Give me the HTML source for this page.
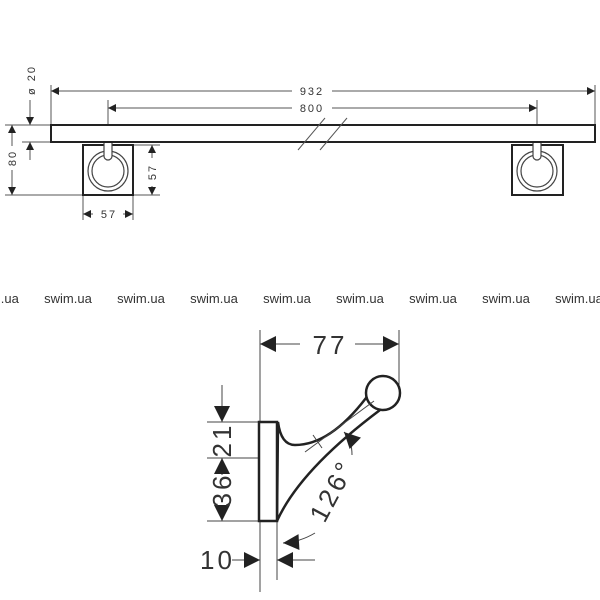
<!DOCTYPE html>
<html><head><style>body{margin:0;background:#fff}svg{display:block}text{font-family:"Liberation Sans",sans-serif;fill:#333}</style></head><body>
<svg width="600" height="600" viewBox="0 0 600 600" xmlns="http://www.w3.org/2000/svg">
<defs>
<marker id="a" viewBox="0 0 10 10" refX="10" refY="5" markerWidth="10" markerHeight="8" orient="auto-start-reverse" markerUnits="userSpaceOnUse"><path d="M0,0L10,5L0,10z" fill="#222"/></marker>
<marker id="b" viewBox="0 0 10 10" refX="10" refY="5" markerWidth="18" markerHeight="16" orient="auto-start-reverse" markerUnits="userSpaceOnUse"><path d="M0,0L10,5L0,10z" fill="#222"/></marker>
</defs>
<g stroke="#555" stroke-width="1" fill="none">
<line x1="51" y1="85" x2="51" y2="125"/><line x1="595" y1="85" x2="595" y2="125"/>
<line x1="108" y1="100" x2="108" y2="145"/><line x1="537" y1="100" x2="537" y2="145"/>
<line x1="51" y1="91" x2="292" y2="91" marker-start="url(#a)"/><line x1="332" y1="91" x2="595" y2="91" marker-end="url(#a)"/>
<line x1="108" y1="108" x2="292" y2="108" marker-start="url(#a)"/><line x1="332" y1="108" x2="537" y2="108" marker-end="url(#a)"/>
<line x1="5" y1="125" x2="50" y2="125"/><line x1="22" y1="142" x2="50" y2="142"/><line x1="5" y1="195" x2="160" y2="195"/>
<line x1="133" y1="145" x2="160" y2="145"/>
<line x1="30" y1="100" x2="30" y2="125" marker-end="url(#a)"/><line x1="30" y1="160" x2="30" y2="142" marker-end="url(#a)"/>
<line x1="12" y1="125" x2="12" y2="146" marker-start="url(#a)"/><line x1="12" y1="170" x2="12" y2="195" marker-end="url(#a)"/>
<line x1="152" y1="145" x2="152" y2="158" marker-start="url(#a)"/><line x1="152" y1="186" x2="152" y2="195" marker-end="url(#a)"/>
<line x1="83" y1="195" x2="83" y2="220"/><line x1="133" y1="195" x2="133" y2="220"/>
<line x1="83" y1="214" x2="93" y2="214" marker-start="url(#a)"/><line x1="123" y1="214" x2="133" y2="214" marker-end="url(#a)"/>
</g>
<g stroke="#222" stroke-width="2" fill="#fff">
<rect x="51" y="125" width="544" height="17"/>
<rect x="83" y="145" width="50" height="50"/><rect x="512" y="145" width="51" height="50"/>
</g>
<g stroke="#555" stroke-width="1" fill="none">
<line x1="298" y1="150" x2="325" y2="118"/><line x1="320" y1="150" x2="347" y2="118"/>
</g>
<g stroke="#444" stroke-width="1.2" fill="none">
<circle cx="108" cy="171" r="20"/><circle cx="108" cy="171" r="16"/>
<circle cx="537" cy="171" r="20"/><circle cx="537" cy="171" r="16"/>
<path d="M104,143V156a4,4 0 0 0 8,0V143" fill="#fff"/><path d="M533,143V156a4,4 0 0 0 8,0V143" fill="#fff"/>
</g>
<g font-size="11" letter-spacing="2">
<text x="312" y="95" text-anchor="middle">932</text>
<text x="312" y="112" text-anchor="middle">800</text>
<text x="109" y="218" text-anchor="middle">57</text>
<text transform="translate(35,80) rotate(-90)" text-anchor="middle">ø 20</text>
<text transform="translate(16,158) rotate(-90)" text-anchor="middle">80</text>
<text transform="translate(156,172) rotate(-90)" text-anchor="middle">57</text>
</g>
<g font-size="13" text-anchor="middle" fill="#333">
<text x="-5" y="303">swim.ua</text><text x="68" y="303">swim.ua</text><text x="141" y="303">swim.ua</text><text x="214" y="303">swim.ua</text><text x="287" y="303">swim.ua</text><text x="360" y="303">swim.ua</text><text x="433" y="303">swim.ua</text><text x="506" y="303">swim.ua</text><text x="579" y="303">swim.ua</text>
</g>
<g stroke="#444" stroke-width="1" fill="none">
<line x1="260" y1="330" x2="260" y2="592"/><line x1="399" y1="330" x2="399" y2="392"/>
<line x1="277" y1="521" x2="277" y2="580"/>
<line x1="260" y1="344" x2="300" y2="344" marker-start="url(#b)"/><line x1="355" y1="344" x2="399" y2="344" marker-end="url(#b)"/>
<line x1="207" y1="422" x2="258" y2="422"/><line x1="207" y1="458" x2="258" y2="458"/><line x1="207" y1="521" x2="258" y2="521"/>
<line x1="222" y1="385" x2="222" y2="422" marker-end="url(#b)"/>
<line x1="222" y1="475" x2="222" y2="458" marker-end="url(#b)"/>
<line x1="222" y1="505" x2="222" y2="521" marker-end="url(#b)"/>
<line x1="232" y1="560" x2="260" y2="560" marker-end="url(#b)"/>
<line x1="315" y1="560" x2="277" y2="560" marker-end="url(#b)"/>
<path d="M315,533 Q300,542 283,543" marker-end="url(#b)"/>
</g>
<g stroke="#222" stroke-width="2.5" fill="#fff">
<path d="M278,422 Q281,445 295,445 Q330,445 366,398 L380,410 Q300,470 277,521 Z"/>
<rect x="259" y="422" width="18" height="99"/>
<circle cx="383" cy="393" r="17"/>
</g>
<g stroke="#444" stroke-width="1" fill="none">
<line x1="305" y1="452" x2="374" y2="401"/>
<line x1="313" y1="435" x2="322" y2="448"/>
<path d="M352,455 Q352,440 344,432" marker-end="url(#b)"/>
</g>
<g font-size="26" fill="#333" letter-spacing="3">
<text x="330" y="354" text-anchor="middle">77</text>
<text transform="translate(231,440) rotate(-90)" text-anchor="middle">21</text>
<text transform="translate(231,490) rotate(-90)" text-anchor="middle">36</text>
<text x="200" y="569">10</text>
<text transform="translate(340,495) rotate(-62)" text-anchor="middle">126°</text>
</g>
</svg>
</body></html>
